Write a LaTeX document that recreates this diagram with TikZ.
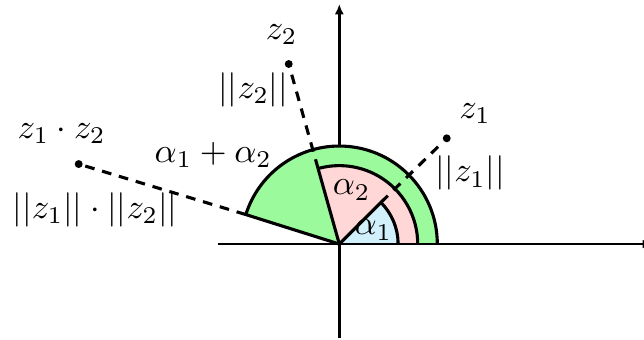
\documentclass[tikz,border=0pt]{standalone}
\usetikzlibrary{arrows.meta}
\definecolor{secgreen}{RGB}{155,250,155}
\definecolor{secpink}{RGB}{255,215,215}
\definecolor{secblue}{RGB}{210,240,252}
\begin{document}
\begin{tikzpicture}[x=1cm,y=1cm,
  sector/.style={draw=black,line width=0.9pt,line join=round},
  axis/.style={line width=0.8pt,-{Latex[length=3pt,width=2.6pt]}},
  dashline/.style={line width=0.9pt,dash pattern=on 2.8pt off 2.3pt},
  pt/.style={circle,fill=black,inner sep=0pt,minimum size=2.3pt},
  lbl/.style={inner sep=0pt}]
\useasboundingbox (-3.462,-0.969) rectangle (3.109,2.490);
\coordinate (O) at (0,0);
% axes
\draw[axis] (-1.236,0) -- (3.2,0);
\draw[axis] (0,-0.96) -- (0,2.45);
% sectors
\fill[secgreen] (O) -- (1,0) arc[start angle=0,end angle=162.5,radius=1] -- cycle;
\draw[sector] (1,0) arc[start angle=0,end angle=162.5,radius=1] -- (O);
\fill[secpink] (O) -- (0.8,0) arc[start angle=0,end angle=105.7,radius=0.8] -- cycle;
\draw[sector] (0.8,0) arc[start angle=0,end angle=105.7,radius=0.8];
\fill[secblue] (O) -- (0.6,0) arc[start angle=0,end angle=45,radius=0.6] -- cycle;
\draw[sector] (0.6,0) arc[start angle=0,end angle=45,radius=0.6] -- (O);
\draw[line width=0.8pt] (-1.236,0) -- (3.0,0);
% points
\node[pt] (z1) at (1.096,1.079) {};
\node[pt] (z2) at (-0.516,1.837) {};
\node[pt] (z12) at (-2.659,0.816) {};
\coordinate (e1) at (45:0.6);
\coordinate (e2) at (105.7:0.8);
\coordinate (e12) at (162.5:1);
\draw[sector] (O) -- (e2);
\draw[dashline] (e1) -- (z1);
\draw[dashline] (e2) -- (z2);
\draw[dashline] (e12) -- (z12);
% labels
\node[lbl] (lz1) at (1.385,1.333) {$z_1$};
\node[lbl] (ln1) at (1.334,0.721) {$||z_1||$};
\node[lbl] (lz2) at (-0.588,2.133) {$z_2$};
\node[lbl] (ln2) at (-0.878,1.571) {$||z_2||$};
\node[lbl] (lz12) at (-2.833,1.129) {$z_1\cdot z_2$};
\node[lbl] (ln12) at (-2.493,0.347) {$||z_1||\cdot||z_2||$};
\node[lbl] (lsum) at (-1.286,0.908) {$\alpha_1+\alpha_2$};
\node[lbl] (la2) at (0.126,0.551) {$\alpha_2$};
\node[lbl] (la1) at (0.347,0.143) {$\alpha_1$};
\end{tikzpicture}
\end{document}
